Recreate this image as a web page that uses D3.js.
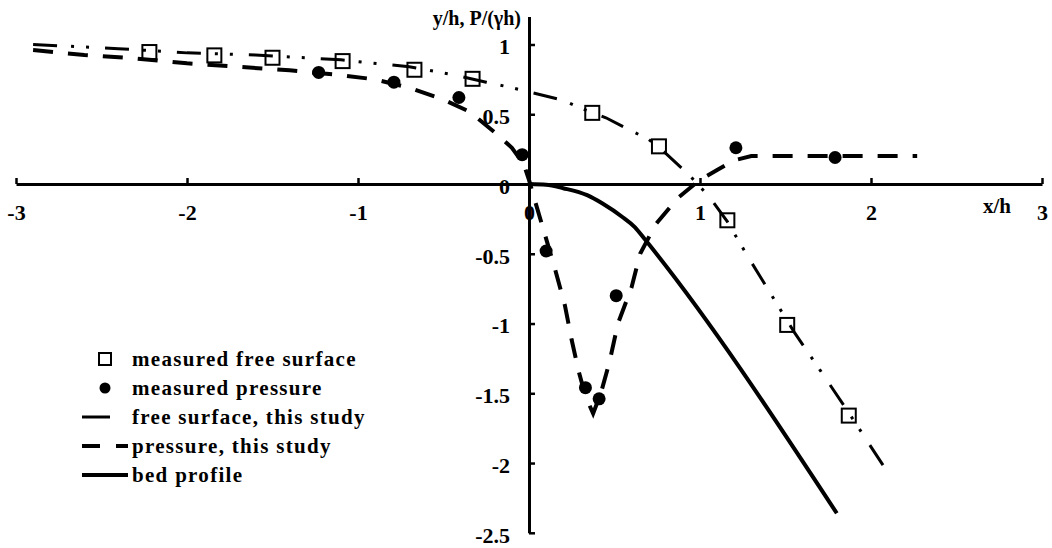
<!DOCTYPE html>
<html><head><meta charset="utf-8">
<script src="https://cdn.jsdelivr.net/npm/d3@7"></script>
<style>
body{margin:0;background:#fff;}
svg text{font-family:"Liberation Serif","Times New Roman",serif;font-weight:bold;fill:#000;}
</style></head>
<body><svg id="c" width="1052" height="548"></svg>
<script>
// measured free surface (x/h, y/h)
const measFreeX = [-2.22,-1.84,-1.50,-1.09,-0.67,-0.33,0.37,0.76,1.16,1.51,1.87];
const measFreeY = [0.946,0.922,0.905,0.881,0.819,0.754,0.51,0.27,-0.26,-1.01,-1.66];
// measured pressure
const measPresX = [-1.23,-0.79,-0.41,-0.04,0.10,0.33,0.41,0.51,1.21,1.79];
const measPresY = [0.80,0.73,0.62,0.21,-0.48,-1.46,-1.54,-0.80,0.26,0.19];
// free surface, this study
const freeX = [-2.9,-2.4,-2.0,-1.6,-1.1,-0.7,-0.45,-0.25,-0.1,0.05,0.2,0.3,0.45,0.6,0.7,0.8,0.94,1.06,1.16,1.28,1.46,1.55,1.7,1.87,2.11];
const freeY = [1.0,0.97,0.94,0.925,0.89,0.84,0.785,0.73,0.69,0.645,0.6,0.545,0.475,0.38,0.32,0.22,0.06,-0.1,-0.27,-0.52,-0.88,-1.06,-1.33,-1.64,-2.09];
// pressure, this study
const presX = [-2.9,-2.6,-2.3,-2.0,-1.7,-1.4,-1.1,-0.9,-0.7,-0.5,-0.35,-0.2,-0.1,-0.03,0,0.03,0.09,0.15,0.21,0.25,0.29,0.33,0.375,0.42,0.47,0.52,0.6,0.65,0.74,0.87,1.0,1.1,1.2,1.3,1.6,2.27];
const presY = [0.96,0.925,0.9,0.865,0.84,0.815,0.78,0.75,0.69,0.605,0.52,0.37,0.26,0.14,0.03,-0.1,-0.35,-0.6,-0.87,-1.12,-1.34,-1.52,-1.645,-1.5,-1.28,-1.0,-0.74,-0.5,-0.29,-0.1,0.03,0.1,0.17,0.2,0.2,0.2];
// bed profile
const bedX = [0,0.1,0.2,0.34,0.43,0.55,0.62,0.68,1.8];
const bedY = [0,-0.005,-0.03,-0.08,-0.14,-0.24,-0.31,-0.4,-2.36];

const xTicks = [-3,-2,-1,0,1,2,3];
const yTicks = [1,0.5,0,-0.5,-1,-1.5,-2,-2.5];
const legendLabels = ["measured free surface","measured pressure","free surface, this study","pressure, this study","bed profile"];

const svg = d3.select("#c");
const x = d3.scaleLinear().domain([-3,3]).range([16,1042]);
const y = d3.scaleLinear().domain([-2.5,1.2]).range([532.8,16.6]);

const zip = (a,b)=>a.map((v,i)=>[v,b[i]]);
const line = d3.line().x(d=>x(d[0])).y(d=>y(d[1]));
const fmt = d=>String(d).replace("\u2212","-");

// axes
const xAxis = d3.axisBottom(x).tickValues(xTicks).tickSizeInner(-6).tickSizeOuter(0).tickPadding(20).tickFormat(fmt);
const gx = svg.append("g").attr("transform",`translate(0,${y(0)})`).call(xAxis);
const yAxis = d3.axisLeft(y).tickValues(yTicks).tickSizeInner(-6).tickSizeOuter(0).tickPadding(19).tickFormat(fmt);
const gy = svg.append("g").attr("transform",`translate(${x(0)},0)`).call(yAxis);
[gx,gy].forEach(g=>{
  g.select(".domain").attr("stroke","#000").attr("stroke-width",3);
  g.selectAll(".tick line").attr("stroke","#000").attr("stroke-width",2.5);
  g.selectAll(".tick text").style("font-size","22px").attr("fill","#000");
});
gy.selectAll(".tick text").attr("dy","0.42em");

svg.append("text").attr("x",x(0)-8).attr("y",25).attr("text-anchor","end").style("font-size","20px").text("y/h, P/(γh)");
svg.append("text").attr("x",983).attr("y",213).style("font-size","21px").text("x/h");

// lines
svg.append("path").datum(zip(freeX,freeY)).attr("d",line).attr("fill","none").attr("stroke","#000")
  .attr("stroke-width",3).attr("stroke-dasharray","24,14,3,12,3,16");
svg.append("path").datum(zip(presX,presY)).attr("d",line).attr("fill","none").attr("stroke","#000")
  .attr("stroke-width",4).attr("stroke-dasharray","20,15");
svg.append("path").datum(zip(bedX,bedY)).attr("d",d3.line().x(d=>x(d[0])).y(d=>y(d[1])).curve(d3.curveMonotoneX))
  .attr("fill","none").attr("stroke","#000").attr("stroke-width",4);

// markers
const s = 14;
svg.selectAll("rect.mf").data(zip(measFreeX,measFreeY)).enter().append("rect")
  .attr("x",d=>x(d[0])-s/2).attr("y",d=>y(d[1])-s/2).attr("width",s).attr("height",s)
  .attr("fill","none").attr("stroke","#000").attr("stroke-width",2);
svg.selectAll("circle.mp").data(zip(measPresX,measPresY)).enter().append("circle")
  .attr("cx",d=>x(d[0])).attr("cy",d=>y(d[1])).attr("r",6.5).attr("fill","#000");

// legend
const lx = 132, ly0 = 359, ldy = 29;
const lg = svg.append("g");
lg.append("rect").attr("x",105-6).attr("y",ly0-6).attr("width",12).attr("height",12).attr("fill","none").attr("stroke","#000").attr("stroke-width",2);
lg.append("circle").attr("cx",105).attr("cy",ly0+ldy).attr("r",5.5).attr("fill","#000");
lg.append("line").attr("x1",82).attr("x2",110).attr("y1",ly0+2*ldy).attr("y2",ly0+2*ldy).attr("stroke","#000").attr("stroke-width",3);
lg.append("line").attr("x1",82).attr("x2",128).attr("y1",ly0+3*ldy).attr("y2",ly0+3*ldy).attr("stroke","#000").attr("stroke-width",4).attr("stroke-dasharray","18,16");
lg.append("line").attr("x1",82).attr("x2",128).attr("y1",ly0+4*ldy).attr("y2",ly0+4*ldy).attr("stroke","#000").attr("stroke-width",4);
legendLabels.forEach((t,i)=>{
  lg.append("text").attr("x",lx).attr("y",ly0+i*ldy).attr("dy","0.35em").style("font-size","21px").style("letter-spacing","1.3px").text(t);
});
</script></body></html>
